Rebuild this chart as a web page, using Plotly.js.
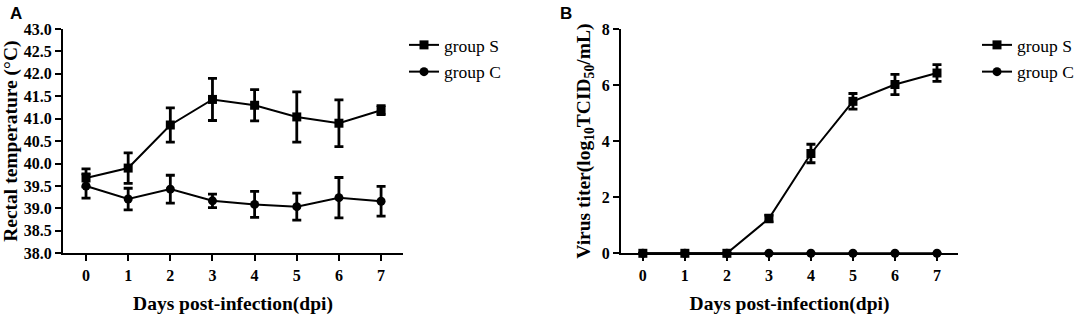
<!DOCTYPE html>
<html>
<head>
<meta charset="utf-8">
<script src="https://cdn.plot.ly/plotly-3.0.1.min.js"></script>
<style>html,body{margin:0;padding:0;background:#fff;}#chart{width:1084px;height:317px;}</style>
</head>
<body>
<div id="chart"></div>
<script>
// Shared x categories (days post-infection)
const days = [0, 1, 2, 3, 4, 5, 6, 7];

// Panel A: rectal temperature (°C)
const tempS = [39.68, 39.90, 40.86, 41.43, 41.30, 41.04, 40.90, 41.19];
const tempSErr = [0.20, 0.34, 0.38, 0.47, 0.35, 0.56, 0.52, 0.10];
const tempC = [39.50, 39.21, 39.43, 39.17, 39.09, 39.04, 39.24, 39.16];
const tempCErr = [0.27, 0.24, 0.31, 0.15, 0.29, 0.30, 0.45, 0.33];

// Panel B: virus titer (log10 TCID50/mL)
const titerS = [0, 0, 0, 1.24, 3.56, 5.42, 6.02, 6.43];
const titerSErr = [0, 0, 0, 0.12, 0.33, 0.28, 0.36, 0.30];
const titerC = [0, 0, 0, 0, 0, 0, 0, 0];
const titerCErr = [0, 0, 0, 0, 0, 0, 0, 0];

const seriesNames = ['group S', 'group C'];
const tempTicks = [38.0, 38.5, 39.0, 39.5, 40.0, 40.5, 41.0, 41.5, 42.0, 42.5, 43.0];
const titerTicks = [0, 2, 4, 6, 8];

const W = 1084, H = 317;
const serif = 'Liberation Serif, Times New Roman, serif';

function trace(y, err, name, symbol, xa, ya, legend, group) {
  return {
    x: days, y: y, name: name, type: 'scatter', mode: 'lines+markers',
    xaxis: xa, yaxis: ya, legend: legend, legendgroup: group,
    cliponaxis: false,
    line: {color: '#000', width: 2},
    marker: {symbol: symbol, size: 9, color: '#000'},
    error_y: {type: 'data', array: err, visible: true, color: '#000', thickness: 2.8, width: 4.5}
  };
}

const data = [
  trace(tempS, tempSErr, seriesNames[0], 'square', 'x', 'y', 'legend', 'a1'),
  trace(tempC, tempCErr, seriesNames[1], 'circle', 'x', 'y', 'legend', 'a2'),
  trace(titerS, titerSErr, seriesNames[0], 'square', 'x2', 'y2', 'legend2', 'b1'),
  trace(titerC, titerCErr, seriesNames[1], 'circle', 'x2', 'y2', 'legend2', 'b2')
];

const tickFont = {family: serif, size: 16, color: '#000', weight: 'bold'};
const titleFont = {family: serif, size: 19.5, color: '#000', weight: 'bold'};
const yBottom = (H - 253.3) / H, yTop = (H - 29) / H;

function xAxis(domain, range, anchor) {
  return {
    domain: domain, range: range, anchor: anchor,
    tickvals: days, ticktext: days.map(String),
    showline: true, linecolor: '#000', linewidth: 2, showgrid: false, zeroline: false,
    ticks: 'outside', ticklen: 6, tickwidth: 2, tickcolor: '#000',
    tickfont: tickFont,
    title: {text: 'Days post-infection(dpi)', font: titleFont, standoff: 14}
  };
}

const layout = {
  width: W, height: H,
  margin: {l: 0, r: 0, t: 0, b: 0},
  paper_bgcolor: '#fff', plot_bgcolor: '#fff',
  xaxis: xAxis([63 / W, 403 / W], [-0.546, 7.52], 'y'),
  xaxis2: xAxis([621 / W, 958 / W], [-0.52, 7.5], 'y2'),
  yaxis: {
    domain: [yBottom, yTop], range: [38, 43], anchor: 'x',
    tickvals: tempTicks, tickformat: '.1f',
    showline: true, linecolor: '#000', linewidth: 2, showgrid: false, zeroline: false,
    ticks: 'outside', ticklen: 6, tickwidth: 2, tickcolor: '#000',
    tickfont: tickFont,
    title: {text: 'Rectal temperature (°C)', font: titleFont, standoff: 6}
  },
  yaxis2: {
    domain: [yBottom, yTop], range: [0, 8], anchor: 'x2',
    tickvals: titerTicks,
    showline: true, linecolor: '#000', linewidth: 2, showgrid: false, zeroline: false,
    ticks: 'outside', ticklen: 6, tickwidth: 2, tickcolor: '#000',
    tickfont: tickFont,
    title: {text: 'Virus titer(log<sub>10</sub>TCID<sub>50</sub>/mL)', font: titleFont, standoff: 6}
  },
  legend: {
    x: 404 / W, y: 1 - 27 / H, xanchor: 'left', yanchor: 'top',
    font: {family: serif, size: 17.5, color: '#000'},
    bgcolor: 'rgba(0,0,0,0)', traceorder: 'grouped', tracegroupgap: 1
  },
  legend2: {
    x: 977 / W, y: 1 - 27 / H, xanchor: 'left', yanchor: 'top',
    font: {family: serif, size: 17.5, color: '#000'},
    bgcolor: 'rgba(0,0,0,0)', traceorder: 'grouped', tracegroupgap: 1
  },
  annotations: [
    {text: 'A', x: 8 / W, y: 1 - 2 / H, xref: 'paper', yref: 'paper', xanchor: 'left', yanchor: 'top', showarrow: false,
     font: {family: 'Liberation Sans, Arial, sans-serif', size: 17, color: '#000', weight: 'bold'}},
    {text: 'B', x: 558 / W, y: 1 - 2 / H, xref: 'paper', yref: 'paper', xanchor: 'left', yanchor: 'top', showarrow: false,
     font: {family: 'Liberation Sans, Arial, sans-serif', size: 17, color: '#000', weight: 'bold'}}
  ]
};

Plotly.newPlot('chart', data, layout, {displayModeBar: false, staticPlot: true});
</script>
</body>
</html>
